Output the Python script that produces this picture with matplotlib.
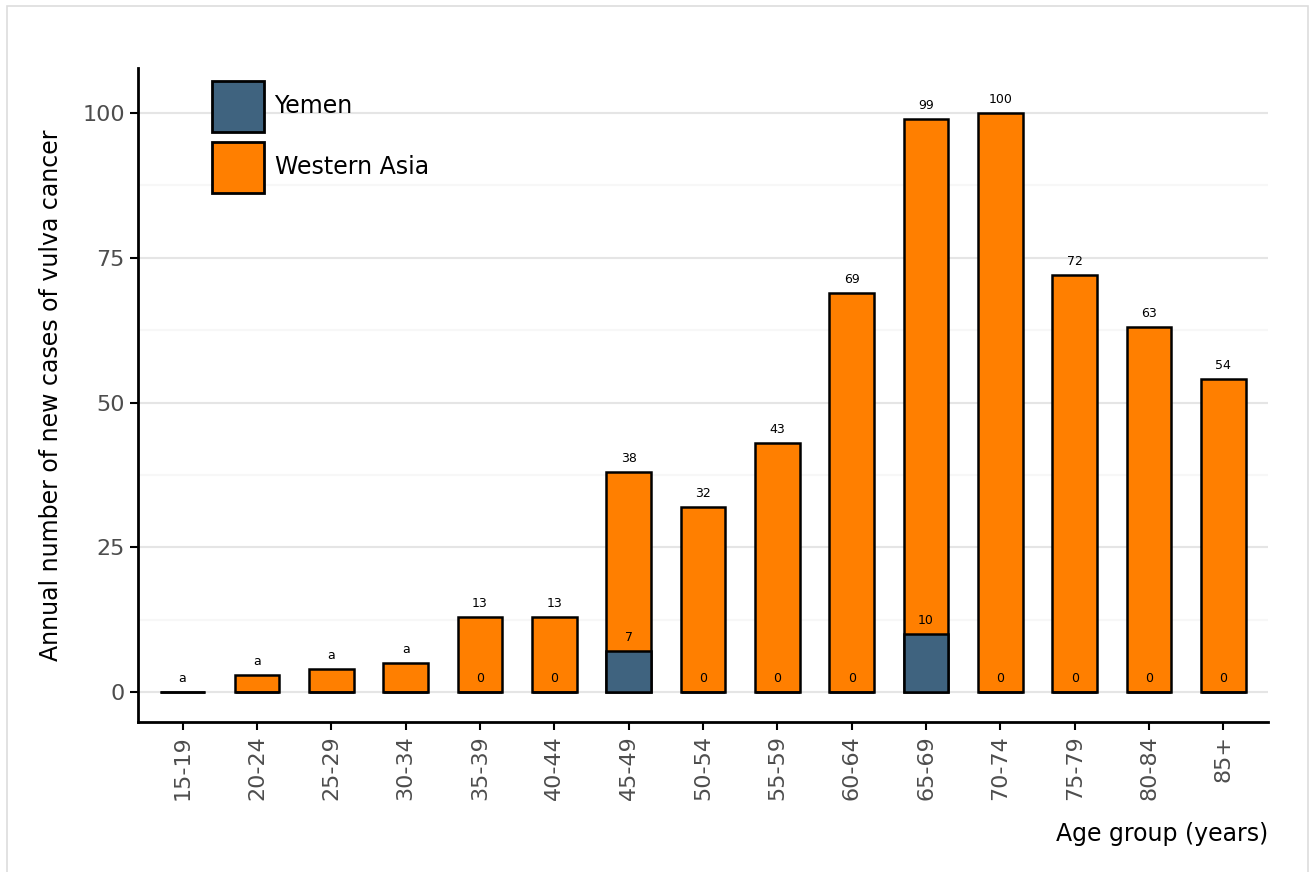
import numpy as np
import matplotlib.pyplot as plt
from matplotlib.patches import Rectangle, Patch

# -----------------------------
# Data
# -----------------------------
age_groups = ['15-19', '20-24', '25-29', '30-34', '35-39', '40-44', '45-49',
              '50-54', '55-59', '60-64', '65-69', '70-74', '75-79', '80-84', '85+']
western_asia = [0, 3, 4, 5, 13, 13, 38, 32, 43, 69, 99, 100, 72, 63, 54]
yemen = [0, 0, 0, 0, 0, 0, 7, 0, 0, 0, 10, 0, 0, 0, 0]
wa_labels = ['a', 'a', 'a', 'a', '13', '13', '38', '32', '43', '69', '99', '100', '72', '63', '54']
yemen_labels = ['', '', '', '', '0', '0', '7', '0', '0', '0', '10', '0', '0', '0', '0']

c_wa = '#ff7f00'
c_yemen = '#3f637f'

fig = plt.figure(figsize=(13.09, 8.72), dpi=100)
fig.patches.append(Rectangle((7 / 1309, -0.01), 1301 / 1309, 1 - 6 / 872 + 0.01,
                             transform=fig.transFigure, fill=False,
                             edgecolor='#dddddd', linewidth=1.2))
ax = fig.add_axes([138 / 1309, 1 - 722 / 872, (1268 - 138) / 1309, (722 - 68) / 872])

x = np.arange(len(age_groups))
ax.bar(x, western_asia, width=0.6, color=c_wa, edgecolor='black', linewidth=1.8, zorder=3)
ax.bar(x, yemen, width=0.6, color=c_yemen, edgecolor='black', linewidth=1.8, zorder=4)

for i in range(len(x)):
    ax.annotate(wa_labels[i], (x[i], western_asia[i]), xytext=(0, 5), textcoords='offset points',
                ha='center', va='bottom', fontsize=9, zorder=5)
    if yemen_labels[i]:
        ax.annotate(yemen_labels[i], (x[i], yemen[i]), xytext=(0, 5), textcoords='offset points',
                    ha='center', va='bottom', fontsize=9, zorder=5)

ax.set_xlim(-0.6, 14.6)
ax.set_ylim(-5.2, 107.8)
ax.set_yticks([0, 25, 50, 75, 100])
ax.set_yticks([12.5, 37.5, 62.5, 87.5], minor=True)
ax.tick_params(axis='y', which='minor', length=0)
ax.set_xticks(x)
ax.set_xticklabels(age_groups, rotation=90)
ax.tick_params(axis='both', which='major', labelsize=16, labelcolor='#4d4d4d',
               length=6, width=1.5, color='black')
ax.grid(axis='y', which='major', color='#e5e5e5', linewidth=1.5, zorder=0)
ax.grid(axis='y', which='minor', color='#f7f7f7', linewidth=1.5, zorder=0)
ax.set_axisbelow(True)
for s in ['top', 'right']:
    ax.spines[s].set_visible(False)
for s in ['left', 'bottom']:
    ax.spines[s].set_linewidth(2)

ax.set_ylabel('Annual number of new cases of vulva cancer', fontsize=17, labelpad=14)
ax.set_xlabel('Age group (years)', fontsize=17, loc='right', labelpad=16)

handles = [Patch(facecolor=c_yemen, edgecolor='black', linewidth=2, label='Yemen'),
           Patch(facecolor=c_wa, edgecolor='black', linewidth=2, label='Western Asia')]
ax.legend(handles=handles, loc='upper left', bbox_to_anchor=(212 / 1309, 1 - 81 / 872),
          bbox_transform=fig.transFigure, frameon=False, fontsize=17,
          handlelength=2.2, handleheight=2.95, labelspacing=0.42,
          handletextpad=0.45, borderpad=0, borderaxespad=0)

plt.savefig('out.png', dpi=100)
